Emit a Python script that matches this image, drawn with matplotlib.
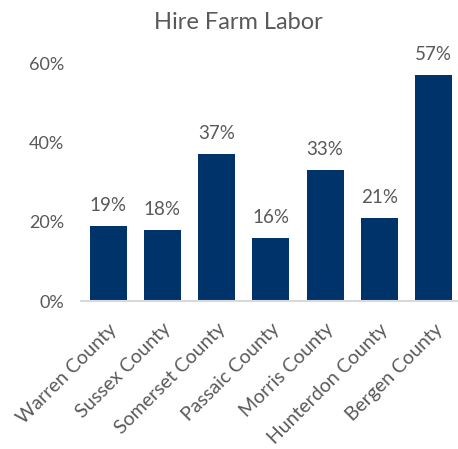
import matplotlib.pyplot as plt
from matplotlib.ticker import PercentFormatter

counties = ['Warren County', 'Sussex County', 'Somerset County', 'Passaic County',
            'Morris County', 'Hunterdon County', 'Bergen County']
share = [0.19, 0.18, 0.37, 0.16, 0.33, 0.21, 0.57]

plt.rcParams['font.family'] = ['Lato', 'DejaVu Sans']
grey = '#595959'

fig = plt.figure(figsize=(4.58, 4.49), dpi=100)
ax = fig.add_axes([0.177, 0.3296, 0.823, 0.53])

x = range(len(counties))
bars = ax.bar(x, share, width=0.68, color='#00336A')
for b, v in zip(bars, share):
    ax.text(b.get_x() + b.get_width() / 2, v + 0.03, f'{v:.0%}',
            ha='center', va='bottom', fontsize=13.5, color=grey)

ax.set_ylim(0, 0.6)
ax.set_xlim(-0.5, 6.45)
ax.set_yticks([0, 0.2, 0.4, 0.6])
ax.yaxis.set_major_formatter(PercentFormatter(1.0, decimals=0))
ax.set_xticks(list(x))
ax.set_xticklabels(counties, rotation=45, ha='right', rotation_mode='anchor')
ax.tick_params(axis='both', length=0, colors=grey)
ax.tick_params(axis='y', pad=12, labelsize=13)
ax.tick_params(axis='x', pad=14, labelsize=14)

for s in ['top', 'right', 'left']:
    ax.spines[s].set_visible(False)
ax.spines['bottom'].set_color('#D9D9D9')
ax.spines['bottom'].set_linewidth(1.5)

fig.text(0.52, 0.95, 'Hire Farm Labor', ha='center', va='center',
         fontsize=17, color=grey)

fig.savefig('out.png', dpi=100)
